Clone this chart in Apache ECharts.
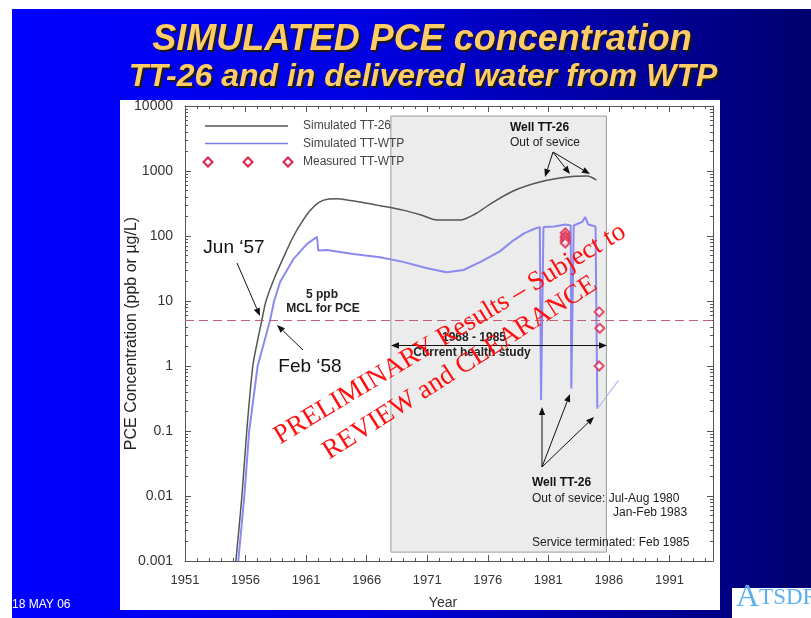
<!DOCTYPE html>
<html>
<head>
<meta charset="utf-8">
<script src="https://cdn.jsdelivr.net/npm/echarts@6/dist/echarts.min.js"></script>
<style>
  html, body { margin: 0; padding: 0; background: #fff; }
  #chart { width: 811px; height: 618px; }
</style>
</head>
<body>
<div id="chart"></div>
<script>
// values
const tt26Years  = [1955.2, 1955.7, 1956.1, 1956.6, 1957.0, 1957.34, 1957.69, 1958.36, 1959.18, 1959.84,
                    1960.5, 1961.3, 1962.1, 1962.9, 1963.6, 1964.5, 1966.0, 1967.1, 1969.0, 1970.5,
                    1971.8, 1973.7, 1975.0, 1976.2, 1978.1, 1980.3, 1982.6, 1984.2, 1984.97];
const tt26Values = [0.001, 0.01, 0.1, 1, 2.5, 5, 10, 22, 49, 90,
                    148, 242, 333, 371, 375, 355, 320, 293, 250, 210,
                    176, 176, 220, 310, 493, 677, 808, 835, 725];

const wtpYears  = [1955.4, 1955.9, 1956.3, 1957.0, 1957.5, 1958.02, 1958.36, 1958.85, 1959.95, 1961.06,
                   1961.9, 1962.0, 1962.7, 1964.9, 1967.1, 1969.0, 1971.0, 1972.6, 1974.0, 1975.4,
                   1977.0, 1978.1, 1979.0, 1979.8, 1980.3, 1980.4, 1980.55, 1980.6, 1981.5, 1982.4,
                   1982.85, 1982.9, 1983.05, 1983.1, 1983.8, 1984.05, 1984.3, 1984.9, 1985.05];
const wtpValues = [0.001, 0.01, 0.1, 1, 2.2, 5, 10, 19.6, 44, 75,
                   97, 60, 61, 53, 47, 40, 32, 27.6, 30, 40,
                   58, 85, 110, 128, 137, 0.3, 0.3, 137, 140, 150,
                   145, 0.45, 0.45, 145, 165, 196, 150, 140, 0.22];

// thin light line after service terminated
const tailYears  = [1985.05, 1986.8];
const tailValues = [0.22, 0.6];

const measYears  = [1982.4, 1982.4, 1982.4, 1982.4, 1982.4, 1985.2, 1985.25, 1985.2];
const measValues = [112, 100, 92, 85, 78, 6.8, 3.8, 1.0];

const mcl = 5;
const studyStart = 1968, studyEnd = 1985.8;
const boxBottom = 0.00137, boxTop = 7000;

const yMinorTicks = [];
[0.001, 0.01, 0.1, 1, 10, 100, 1000].forEach(function (d) {
  for (let k = 2; k <= 9; k++) yMinorTicks.push(+(d * k).toPrecision(3));
});

function zip(xs, ys) { return xs.map(function (x, i) { return [x, ys[i]]; }); }

const FONT = '"Liberation Sans", Arial, sans-serif';
const axisColor = '#555';

// arrow = line + filled head
function arrow(x1, y1, x2, y2) {
  const a = Math.atan2(y2 - y1, x2 - x1), L = 8, W = 3.2;
  const bx = x2 - L * Math.cos(a), by = y2 - L * Math.sin(a);
  return [
    { type: 'line', z: 30, shape: { x1: x1, y1: y1, x2: bx, y2: by }, style: { stroke: '#111', lineWidth: 1 } },
    { type: 'polygon', z: 30, shape: { points: [[x2, y2], [bx + W * Math.sin(a), by - W * Math.cos(a)], [bx - W * Math.sin(a), by + W * Math.cos(a)]] },
      style: { fill: '#111' } }
  ];
}
function txt(s, x, y, font, align, fill) {
  return { type: 'text', z: 30, style: { text: s, x: x, y: y, font: font, align: align || 'left', verticalAlign: 'middle', fill: fill || '#111' } };
}
function diamond(cx, cy) {
  const r = 4.5;
  return { type: 'polygon', z: 30, shape: { points: [[cx, cy - r], [cx + r, cy], [cx, cy + r], [cx - r, cy]] },
    style: { fill: '#fff', stroke: '#e0204a', lineWidth: 2 } };
}

const chart = echarts.init(document.getElementById('chart'));

const elements = [
  // slide background
  { type: 'rect', z: -10, shape: { x: 12, y: 9, width: 799, height: 609 },
    style: { fill: new echarts.graphic.LinearGradient(0, 0, 1, 0, [
      { offset: 0, color: '#0000ff' }, { offset: 0.45, color: '#0000e0' }, { offset: 1, color: '#00006e' }]) } },
  { type: 'rect', z: -9, shape: { x: 120, y: 100, width: 600, height: 510 }, style: { fill: '#fff' } },
  // title with shadow
  txt('SIMULATED PCE concentration', 424, 42, 'italic bold 36px ' + FONT, 'center', '#1a1a1a'),
  txt('SIMULATED PCE concentration', 422, 40, 'italic bold 36px ' + FONT, 'center', '#ffcc66'),
  txt('TT-26 and in delivered water from WTP', 425, 79, 'italic bold 32px ' + FONT, 'center', '#1a1a1a'),
  txt('TT-26 and in delivered water from WTP', 423, 77, 'italic bold 32px ' + FONT, 'center', '#ffcc66'),
  txt('18 MAY 06', 12, 605, '12px ' + FONT, 'left', '#fff'),
  // logo
  { type: 'rect', z: -8, shape: { x: 732, y: 588, width: 79, height: 30 }, style: { fill: '#fff' } },
  { type: 'text', z: 30, style: { text: '{a|A}{b|TSDR}', x: 736, y: 614, verticalAlign: 'bottom',
      rich: { a: { font: '32px "Liberation Serif"', fill: '#5ab0f0' }, b: { font: '23px "Liberation Serif"', fill: '#5ab0f0' } } } },
  // legend
  { type: 'line', z: 30, shape: { x1: 205, y1: 126, x2: 288, y2: 126 }, style: { stroke: '#555', lineWidth: 1.5 } },
  { type: 'line', z: 30, shape: { x1: 205, y1: 143.5, x2: 288, y2: 143.5 }, style: { stroke: '#7c7cf0', lineWidth: 1.5 } },
  diamond(208, 162), diamond(248, 162), diamond(288, 162),
  txt('Simulated TT-26', 303, 126, '12px ' + FONT, 'left', '#444'),
  txt('Simulated TT-WTP', 303, 143.5, '12px ' + FONT, 'left', '#444'),
  txt('Measured TT-WTP', 303, 162, '12px ' + FONT, 'left', '#444'),
  // annotations
  txt('Jun \u201857', 234, 248, '19px ' + FONT, 'center'),
  txt('Feb \u201858', 310, 367, '19px ' + FONT, 'center'),
  txt('5 ppb', 322, 295, 'bold 12px ' + FONT, 'center', '#222'),
  txt('MCL for PCE', 323, 309, 'bold 12px ' + FONT, 'center', '#222'),
  txt('1968 - 1985', 474, 338, 'bold 12px ' + FONT, 'center', '#222'),
  txt('Current health study', 472, 353, 'bold 12px ' + FONT, 'center', '#222'),
  txt('Well TT-26', 510, 128, 'bold 12px ' + FONT, 'left'),
  txt('Out of sevice', 510, 143, '12px ' + FONT, 'left', '#222'),
  txt('Well TT-26', 532, 483, 'bold 12px ' + FONT, 'left'),
  txt('Out of sevice: Jul-Aug 1980', 532, 499, '12px ' + FONT, 'left', '#222'),
  txt('Jan-Feb 1983', 613, 513, '12px ' + FONT, 'left', '#222'),
  txt('Service terminated: Feb 1985', 532, 543, '12px ' + FONT, 'left', '#222'),
  // watermark
  { type: 'text', z: 60, x: 450, y: 334, rotation: 31 * Math.PI / 180,
    style: { text: 'PRELIMINARY Results \u2013 Subject to', x: 0, y: 0, font: '27px "Liberation Serif"', fill: '#ff1010', align: 'center', verticalAlign: 'middle' } },
  { type: 'text', z: 60, x: 460, y: 368, rotation: 32.5 * Math.PI / 180,
    style: { text: 'REVIEW and CLEARANCE', x: 0, y: 0, font: '27px "Liberation Serif"', fill: '#ff1010', align: 'center', verticalAlign: 'middle' } }
].concat(
  arrow(237, 263, 260, 316),
  arrow(303, 350, 277, 325),
  arrow(553, 152, 545, 177),
  arrow(553, 152, 570, 174),
  arrow(553, 152, 590, 174),
  arrow(542, 467, 542, 407),
  arrow(542, 467, 570, 394),
  arrow(542, 467, 594, 417),
  arrow(499, 345.5, 391, 345.5),
  arrow(499, 345.5, 607, 345.5)
);

const xBase = { type: 'value', min: 1951, max: 1994.6, splitLine: { show: false } };
const yBase = { type: 'log', logBase: 10, min: 0.001, max: 10000, splitNumber: 7, splitLine: { show: false } };

const option = {
  backgroundColor: '#fff',
  animation: false,
  grid: { left: 185, right: 98, top: 106, bottom: 57 },
  xAxis: [
    Object.assign({}, xBase, {
      interval: 5, position: 'bottom',
      axisLine: { lineStyle: { color: axisColor } },
      axisTick: { inside: true, length: 6, lineStyle: { color: axisColor } },
      axisLabel: { formatter: function (v) { return String(v); }, showMaxLabel: false, color: '#333', fontSize: 13, margin: 13, fontFamily: FONT },
      name: 'Year', nameLocation: 'middle', nameGap: 35, nameMoveOverlap: false,
      nameTextStyle: { color: '#333', fontSize: 14, fontFamily: FONT, padding: [0, 12, 0, 0] }
    }),
    Object.assign({}, xBase, { interval: 1, position: 'bottom', axisLine: { show: false },
      axisTick: { inside: true, length: 3, lineStyle: { color: axisColor } }, axisLabel: { show: false } }),
    Object.assign({}, xBase, { interval: 5, position: 'top', axisLine: { lineStyle: { color: axisColor } },
      axisTick: { inside: true, length: 6, lineStyle: { color: axisColor } }, axisLabel: { show: false } }),
    Object.assign({}, xBase, { interval: 1, position: 'top', axisLine: { show: false },
      axisTick: { inside: true, length: 3, lineStyle: { color: axisColor } }, axisLabel: { show: false } })
  ],
  yAxis: [
    Object.assign({}, yBase, {
      position: 'left',
      axisLine: { show: true, lineStyle: { color: axisColor } },
      axisTick: { show: true, inside: true, length: 6, lineStyle: { color: axisColor } },
      axisLabel: {
        color: '#333', fontSize: 14, margin: 12, fontFamily: FONT,
        formatter: function (v) {
          const e = Math.round(Math.log10(v));
          return e < 0 ? Math.pow(10, e).toFixed(-e) : String(Math.pow(10, e));
        }
      },
      name: 'PCE Concentration (ppb or \u00b5g/L)', nameLocation: 'middle', nameGap: 45, nameMoveOverlap: false,
      nameTextStyle: { color: '#222', fontSize: 16, fontFamily: FONT }
    }),
    Object.assign({}, yBase, { position: 'left', axisLine: { show: false },
      axisTick: { show: true, inside: true, length: 3, customValues: yMinorTicks, lineStyle: { color: axisColor } },
      axisLabel: { show: false } }),
    Object.assign({}, yBase, { position: 'right', axisLine: { show: true, lineStyle: { color: axisColor } },
      axisTick: { show: true, inside: true, length: 6, lineStyle: { color: axisColor } }, axisLabel: { show: false } }),
    Object.assign({}, yBase, { position: 'right', axisLine: { show: false },
      axisTick: { show: true, inside: true, length: 3, customValues: yMinorTicks, lineStyle: { color: axisColor } },
      axisLabel: { show: false } })
  ],
  graphic: { elements: elements },
  series: [
    {
      name: 'study', type: 'line', data: [], z: 1, silent: true,
      markArea: {
        silent: true,
        itemStyle: { color: '#ececec', borderColor: '#9a9a9a', borderWidth: 1 },
        data: [[{ xAxis: studyStart, yAxis: boxBottom }, { xAxis: studyEnd, yAxis: boxTop }]]
      }
    },
    {
      name: 'Simulated TT-WTP', type: 'line', data: zip(wtpYears, wtpValues), z: 3,
      showSymbol: false, lineStyle: { color: '#8a8af0', width: 2 },
      markLine: {
        silent: true, symbol: 'none', label: { show: false },
        lineStyle: { color: '#c0607a', type: [9, 5], width: 1 },
        data: [{ yAxis: mcl }]
      }
    },
    {
      name: 'tail', type: 'line', data: zip(tailYears, tailValues), z: 3,
      showSymbol: false, lineStyle: { color: '#b4b4f2', width: 1.2 }
    },
    {
      name: 'Simulated TT-26', type: 'line', data: zip(tt26Years, tt26Values), z: 4,
      showSymbol: false, smooth: 0.3, lineStyle: { color: '#555', width: 1.5 }
    },
    {
      name: 'Measured TT-WTP', type: 'scatter', data: zip(measYears, measValues), z: 5,
      symbol: 'diamond', symbolSize: 9,
      itemStyle: { color: '#fff', borderColor: '#e0204a', borderWidth: 2 }
    }
  ]
};

chart.setOption(option);
</script>
</body>
</html>
